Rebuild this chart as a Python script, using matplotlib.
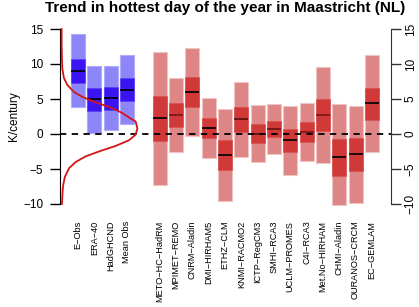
import numpy as np
import matplotlib.pyplot as plt

plt.rcParams['font.family'] = ['Liberation Sans', 'DejaVu Sans']

# observations
obs_names = ['E\u2212Obs', 'ERA\u221240', 'HadGHCND', 'Mean Obs']
obs_lo = [3.8, 0.1, 0.6, 1.45]
obs_q1 = [7.25, 3.3, 3.5, 4.75]
obs_med = [9.05, 4.95, 5.15, 6.35]
obs_q3 = [10.75, 6.6, 6.7, 7.95]
obs_hi = [14.25, 9.75, 9.75, 11.3]

# regional models
mod_names = ['METO\u2212HC\u2212HadRM', 'MPIMET\u2212REMO', 'CNRM\u2212Aladin', 'DMI\u2212HIRHAM5',
             'ETHZ\u2212CLM', 'KNMI\u2212RACMO2', 'ICTP\u2212RegCM3', 'SMHI\u2212RCA3',
             'UCLM\u2212PROMES', 'C4I\u2212RCA3', 'Met.No\u2212HIRHAM', 'CHMI\u2212Aladin',
             'OURANOS\u2212CRCM', 'EC\u2212GEMLAM']
mod_lo = [-7.3, -2.5, -0.3, -3.4, -9.55, -3.25, -3.95, -2.9, -5.8, -3.9, -4.2, -10.1, -9.8, -2.6]
mod_q1 = [-0.95, 1.0, 3.9, -0.5, -5.2, 0.35, -1.3, -0.45, -2.5, -1.1, 0.45, -6.0, -5.25, 2.0]
mod_med = [2.25, 2.7, 6.0, 0.8, -3.0, 2.15, 0.05, 0.7, -0.9, 0.35, 2.7, -3.35, -2.9, 4.4]
mod_q3 = [5.45, 4.5, 8.1, 2.25, -0.85, 3.9, 1.4, 1.9, 0.75, 1.65, 5.0, -0.75, -0.5, 6.6]
mod_hi = [11.75, 7.95, 12.25, 5.1, 3.6, 7.5, 4.1, 4.35, 4.05, 4.5, 9.55, 4.35, 4.05, 11.3]
mod_medcol = ['black', '#7a1414', 'black', 'black', 'black', '#5a1010', '#5a1010', '#6a1212',
              'black', '#7a1414', '#7a1414', 'black', 'black', 'black']

# distribution curve (K/century vs. density in bar units)
curve_k = [15.0, 12.7, 10.8, 9.4, 8.0, 7.0, 6.0, 5.3, 4.7, 4.2, 3.7, 3.0, 2.2, 1.8, 0.8,
           -0.1, -0.9, -1.7, -2.5, -3.2, -4.0, -4.9, -6.1, -7.5, -9.0, -10.0]
curve_dens = [0.0, 0.0, 0.02, 0.04, 0.14, 0.35, 0.76, 1.27, 1.88, 2.49, 3.10, 3.71, 4.23, 4.53, 4.64,
              4.53, 4.12, 3.31, 2.28, 1.47, 0.86, 0.45, 0.20, 0.08, 0.04, 0.02]

W, H = 419, 307
fig = plt.figure(figsize=(W / 100, H / 100), dpi=100)
ylo, yhi = -10.5, 15.5
ax = fig.add_axes([60 / W, 1 - 207.5 / H, 331 / W, 182 / H])

obs_pos = np.arange(1, len(obs_names) + 1)
mod_pos = np.arange(len(obs_names) + 2, len(obs_names) + 2 + len(mod_names))
bw = 0.86


def draw_group(pos, lo, q1, med, q3, hi, c_light, c_dark, e_light, e_dark, medcols):
    lo, q1, med, q3, hi = map(np.array, (lo, q1, med, q3, hi))
    ax.bar(pos, hi - lo, bottom=lo, width=bw, color=c_light, edgecolor=e_light, linewidth=0.8, zorder=2)
    ax.bar(pos, q3 - q1, bottom=q1, width=bw, color=c_dark, edgecolor=e_dark, linewidth=0.5, zorder=3)
    for p, m, c in zip(pos, med, medcols):
        ax.plot([p - bw / 2, p + bw / 2], [m, m], color=c, lw=1.2, zorder=4, solid_capstyle='butt')


draw_group(obs_pos, obs_lo, obs_q1, obs_med, obs_q3, obs_hi,
           '#8c86f8', '#3a14f2', '#b0acfa', '#5a40f4', ['black'] * len(obs_names))
draw_group(mod_pos, mod_lo, mod_q1, mod_med, mod_q3, mod_hi,
           '#de8686', '#d13838', '#f0c4c4', '#d85050', mod_medcol)

ax.axhline(0, color='black', lw=1.3, ls=(0, (3.5, 3)), zorder=5)
ax.plot(curve_dens, curve_k, color='#d41515', lw=1.3, zorder=6, clip_on=False)

ax.set_xlim(-0.1, 20.17)
ax.set_ylim(ylo, yhi)
for s in ['top', 'bottom', 'right']:
    ax.spines[s].set_visible(False)
ax.spines['left'].set_bounds(-10, 15)
ax.set_yticks([-10, -5, 0, 5, 10, 15])
ax.set_yticklabels(['\u221210', '\u22125', '0', '5', '10', '15'])
ax.tick_params(axis='y', length=7, width=1, pad=5, labelsize=8.5)
ax.set_ylabel('K/century', fontsize=8.5, labelpad=2)

ax.set_xticks(list(obs_pos) + list(mod_pos))
ax.set_xticklabels(obs_names + mod_names, rotation=90, fontsize=6.6, va='top')
ax.tick_params(axis='x', length=0, pad=9.5)

ax2 = ax.twinx()
ax2.set_ylim(ylo, yhi)
for s in ['top', 'bottom', 'left']:
    ax2.spines[s].set_visible(False)
ax2.spines['right'].set_bounds(-10, 15)
ax2.spines['right'].set_color('#333333')
ax2.set_yticks([-10, -5, 0, 5, 10, 15])
ax2.set_yticklabels(['\u221210', '\u22125', '0', '5', '10', '15'], rotation=90, va='center')
ax2.tick_params(axis='y', length=7, width=1, pad=3, labelsize=8.5, color='#333333')

fig.text(225.5 / W, 1 - 8 / H, 'Trend in hottest day of the year in Maastricht (NL)',
         ha='center', va='center', fontsize=11, fontweight='bold')

fig.savefig('out.png', dpi=100)
